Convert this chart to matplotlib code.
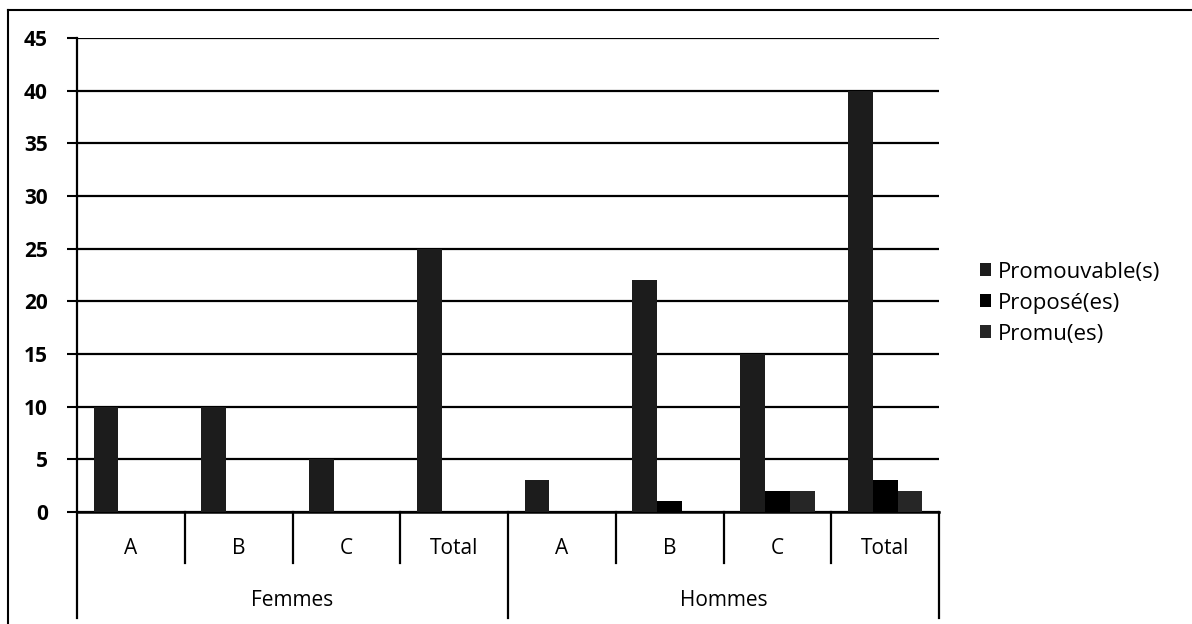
import matplotlib.pyplot as plt
import numpy as np
from matplotlib.lines import Line2D
from matplotlib.transforms import blended_transform_factory

# data
groups = ["Femmes", "Hommes"]
categories = ["A", "B", "C", "Total"]
series = ["Promouvable(s)", "Proposé(es)", "Promu(es)"]
promouvables = [10, 10, 5, 25, 3, 22, 15, 40]
proposes = [0, 0, 0, 0, 0, 1, 2, 3]
promus = [0, 0, 0, 0, 0, 0, 2, 2]
yticks = [0, 5, 10, 15, 20, 25, 30, 35, 40, 45]

plt.rcParams['font.family'] = ['Open Sans', 'DejaVu Sans']

fig = plt.figure(figsize=(11.92, 6.24), dpi=100)
ax = fig.add_axes([77 / 1192, 1 - 512 / 624, 862 / 1192, 474 / 624])

n = len(groups) * len(categories)
x = np.arange(n)
w = 0.23
colors = ["#1c1c1c", "#000000", "#262626"]
for k, vals in enumerate([promouvables, proposes, promus]):
    ax.bar(x + (k - 1) * w, vals, w, color=colors[k], label=series[k], zorder=3)

ax.set_xlim(-0.5, n - 0.5)
ax.set_ylim(0, 45)
ax.set_yticks(yticks)
ax.set_yticklabels([str(v) for v in yticks], fontsize=15, fontweight='bold')
ax.tick_params(axis='y', direction='out', length=7, width=1.5, pad=14, color='black')
ax.set_xticks([])
ax.yaxis.grid(True, color='black', linewidth=1.6, zorder=0)
ax.set_axisbelow(True)
for s in ['top', 'right']:
    ax.spines[s].set_visible(False)
ax.spines['left'].set_linewidth(1.6)
ax.spines['bottom'].set_linewidth(1.8)

# hierarchical category axis below the plot
tr = blended_transform_factory(ax.transData, ax.transAxes)
labels = categories * len(groups)
for i, lab in enumerate(labels):
    ax.text(i, -0.077, lab, transform=tr, ha='center', va='center', fontsize=15)
for i in range(n + 1):
    bottom = -0.224 if i % len(categories) == 0 else -0.108
    ax.add_line(Line2D([i - 0.5, i - 0.5], [0, bottom], transform=tr,
                       color='black', linewidth=1.6, clip_on=False))
for g, name in enumerate(groups):
    center = g * len(categories) + (len(categories) - 1) / 2
    ax.text(center, -0.186, name, transform=tr, ha='center', va='center', fontsize=15)

ax.legend(loc='center left', bbox_to_anchor=(980 / 1192, 1 - 303 / 624),
          bbox_transform=fig.transFigure, frameon=False, fontsize=16,
          handlelength=0.5, handleheight=0.5, handletextpad=0.3,
          labelspacing=0.45, borderpad=0, borderaxespad=0)

# scanned page frame
fig.add_artist(Line2D([8 / 1192, 1], [1 - 10 / 624, 1 - 10 / 624],
                      transform=fig.transFigure, color='black', linewidth=1.5))
fig.add_artist(Line2D([8 / 1192, 8 / 1192], [0, 1 - 10 / 624],
                      transform=fig.transFigure, color='black', linewidth=1.5))

fig.savefig("out.png", dpi=100)
